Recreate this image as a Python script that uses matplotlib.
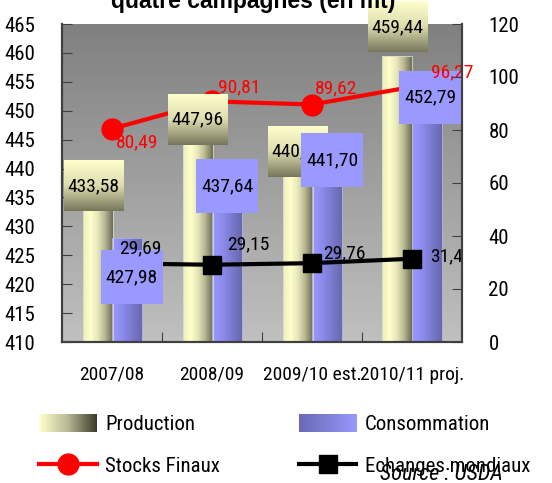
import numpy as np
import matplotlib.pyplot as plt
from matplotlib.colors import LinearSegmentedColormap
from matplotlib.legend_handler import HandlerBase
from matplotlib.image import BboxImage
from matplotlib.transforms import Bbox, TransformedBbox
from matplotlib.lines import Line2D
from matplotlib.patches import Patch

plt.rcParams["font.family"] = ["Roboto Condensed", "Archivo Narrow", "DejaVu Sans"]

campagnes = ["2007/08", "2008/09", "2009/10 est.", "2010/11 proj."]
production = [433.58, 447.96, 440.30, 459.44]
consommation = [427.98, 437.64, 441.70, 452.79]
stocks = [80.49, 90.81, 89.62, 96.27]
echanges = [29.69, 29.15, 29.76, 31.42]

# label placement (style only): box centre offsets from the bar top
prod_dx = [-0.04, 0.0, 0.0, 0.0]
prod_dy = [3.4, 0.5, 2.6, 5.0]
cons_dx = [0.045, 0.0, 0.05, 0.035]
cons_dy = [-6.8, -0.7, -0.2, -0.5]
stock_off = [(25, -14), (27, 14), (24, 16), (40, 15)]
ech_off = [(28, 15), (36, 20), (32, 10), (18, 2)]

FS = 14

cm_prod = LinearSegmentedColormap.from_list(
    "prod", ["#eeeebb", "#ffffcc", "#e6e6b8", "#b4b490", "#6e6e56"])
cm_cons = LinearSegmentedColormap.from_list(
    "cons", ["#9a9aff", "#8c8cee", "#7a7acc", "#6868b0"])
cm_box = LinearSegmentedColormap.from_list("box", ["#ffffcc", "#dcdcae", "#77775c"])
cm_bg = LinearSegmentedColormap.from_list("bg", ["#c0c0c0", "#808080"])
cm_leg_prod = LinearSegmentedColormap.from_list("lp", ["#ffffcc", "#b8b894", "#3c3c2c"])
cm_leg_cons = LinearSegmentedColormap.from_list("lc", ["#6a6ab8", "#8080d8", "#9999ff"])

hgrad = np.linspace(0, 1, 64).reshape(1, -1)
vgrad = np.linspace(0, 1, 64).reshape(-1, 1)

fig = plt.figure(figsize=(5.52, 4.83), dpi=100)
ax = fig.add_axes([62 / 552, 1 - 342 / 483, 400 / 552, 318 / 483])
ax2 = ax.twinx()
ax2.patch.set_visible(False)

ax.set_xlim(-0.5, 3.5)
ax.set_ylim(410, 465)
ax2.set_ylim(0, 120)

# plot area background
ax.imshow(vgrad, cmap=cm_bg, aspect="auto", extent=(0, 1, 0, 1),
          transform=ax.transAxes, origin="lower", zorder=0)

x = np.arange(len(campagnes))
w = 0.3
bars_p = ax.bar(x - 0.145, np.array(production) - 410, w, bottom=410,
                color="none", edgecolor="#d8d8c8", linewidth=0.6, zorder=2)
bars_c = ax.bar(x + 0.15, np.array(consommation) - 410, w, bottom=410,
                color="none", edgecolor="#b0b0d8", linewidth=0.6, zorder=2)
for bars, cm in [(bars_p, cm_prod), (bars_c, cm_cons)]:
    for b in bars:
        x0, y0 = b.get_x(), b.get_y()
        im = ax.imshow(hgrad, cmap=cm, aspect="auto", zorder=1.9,
                       extent=(x0, x0 + b.get_width(), y0, y0 + b.get_height()))
        im.set_clip_path(b)

# lines on right scale, drawn on the left axes so boxes can cover them
ax.plot(x, stocks, color="red", lw=3, marker="o", ms=15, zorder=3,
        transform=ax2.transData)
ax.plot(x, echanges, color="black", lw=3, marker="s", ms=13, zorder=3,
        transform=ax2.transData)

# data label boxes
bw_p, bh_p = 0.6, 8.65
bw_c, bh_c = 0.62, 9.3
for i, v in enumerate(production):
    cx = x[i] - 0.145 + prod_dx[i]
    cy = v + prod_dy[i]
    ax.imshow(vgrad, cmap=cm_box, aspect="auto", origin="upper", zorder=4,
              extent=(cx - bw_p / 2, cx + bw_p / 2, cy - bh_p / 2, cy + bh_p / 2),
              clip_on=False)
    ax.text(cx, cy, f"{v:.2f}".replace(".", ","), ha="center", va="center",
            fontsize=FS, zorder=4.1, clip_on=False)
for i, v in enumerate(consommation):
    cx = x[i] + 0.15 + cons_dx[i]
    cy = v + cons_dy[i]
    r = plt.Rectangle((cx - bw_c / 2, cy - bh_c / 2), bw_c, bh_c,
                      facecolor="#9999ff", edgecolor="none", zorder=5)
    ax.add_patch(r)
    ax.text(cx, cy, f"{v:.2f}".replace(".", ","), ha="center", va="center",
            fontsize=FS, zorder=5.1)

for i, v in enumerate(stocks):
    ax.annotate(f"{v:.2f}".replace(".", ","), (x[i], v), xycoords=ax2.transData,
                xytext=stock_off[i], textcoords="offset pixels", ha="center",
                va="center", color="red", fontsize=FS, zorder=6,
                annotation_clip=False)
for i, v in enumerate(echanges):
    ha = "left" if i == 3 else "center"
    t = ax.annotate(f"{v:.2f}".replace(".", ","), (x[i], v), xycoords=ax2.transData,
                    xytext=ech_off[i], textcoords="offset pixels", ha=ha,
                    va="center", color="black", fontsize=FS, zorder=6)
    t.set_clip_on(True)
    t.set_clip_box(ax.bbox)

# axes styling
ax.set_xticks([0.5, 1.5, 2.5])
ax.set_xticklabels([])
ax.set_xticks(x, minor=True)
ax.set_xticklabels(campagnes, minor=True)
ax.tick_params(axis="x", which="major", direction="in", length=7, color="#404040")
ax.tick_params(axis="x", which="minor", length=0, pad=17, labelsize=FS)
ax.set_yticks(np.arange(410, 466, 5))
ax.tick_params(axis="y", direction="in", length=7, pad=19, labelsize=FS + 1,
               color="#404040")
ax2.set_yticks(np.arange(0, 121, 20))
ax2.tick_params(axis="y", direction="in", length=7, pad=19, labelsize=FS + 1,
                color="#404040")
for a in (ax, ax2):
    a.spines["top"].set_visible(False)
    for s in ("left", "right", "bottom"):
        a.spines[s].set_color("#404040")
        a.spines[s].set_linewidth(1.5)

fig.text(253 / 552, 1 - 8 / 483, "quatre campagnes (en mt)", ha="center",
         va="baseline", fontsize=16.5, fontweight="bold",
         family=["Liberation Sans", "DejaVu Sans"])


class GradHandler(HandlerBase):
    def __init__(self, cmap):
        super().__init__()
        self.cmap = cmap

    def create_artists(self, legend, orig_handle, xdescent, ydescent, width,
                       height, fontsize, trans):
        bb = TransformedBbox(Bbox.from_bounds(-xdescent, -ydescent, width, height), trans)
        img = BboxImage(bb, cmap=self.cmap, interpolation="bilinear")
        img.set_data(hgrad)
        return [img]


h_prod = Patch(label="Production")
h_cons = Patch(label="Consommation")
h_stock = Line2D([], [], color="red", lw=3, marker="o", ms=15, label="Stocks Finaux")
h_ech = Line2D([], [], color="black", lw=3, marker="s", ms=13, label="Echanges mondiaux")
fig.legend(handles=[h_prod, h_stock, h_cons, h_ech], ncol=2, loc="upper left",
           bbox_to_anchor=(29 / 552, 1 - 404 / 483), frameon=False, fontsize=FS + 1,
           handlelength=2.75, handleheight=0.9, handletextpad=0.4,
           columnspacing=3.8, labelspacing=1.05, borderpad=0,
           handler_map={h_prod: GradHandler(cm_leg_prod),
                        h_cons: GradHandler(cm_leg_cons)})

fig.text(503 / 552, 1 - 475 / 483, "Source : USDA", ha="right", va="center",
         fontsize=16, style="italic")

fig.savefig("out.png", dpi=100)
